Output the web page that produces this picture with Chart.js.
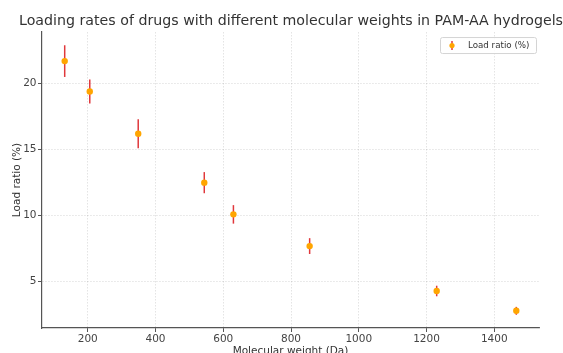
<!DOCTYPE html>
<html><head><meta charset="utf-8">
<script src="https://cdn.jsdelivr.net/npm/chart.js@4"></script>
<style>html,body{margin:0;padding:0;overflow:hidden;background:#fff}canvas{display:block}</style>
</head><body>
<canvas id="c" width="563" height="368"></canvas>
<script>
const molecularWeights = [132, 206, 349, 544, 630, 855, 1230, 1465];
const loadRatios = [21.7, 19.4, 16.2, 12.5, 10.1, 7.7, 4.3, 2.8];
const loadErrors = [1.2, 0.9, 1.1, 0.8, 0.7, 0.6, 0.4, 0.3];
const xTicks = [200, 400, 600, 800, 1000, 1200, 1400];
const yTicks = [5, 10, 15, 20];
const seriesLabel = 'Load ratio (%)';
const titleText = 'Loading rates of drugs with different molecular weights in PAM-AA hydrogels';
const xTitle = 'Molecular weight (Da)';
const yTitle = 'Load ratio (%)';

const FONT = "'DejaVu Sans', sans-serif";
const ERR_COLOR = '#e0383c';
const PT_COLOR = '#ffa500';
const TEXT = '#333';

const errorBars = {
  id: 'errorBars',
  beforeDatasetsDraw(chart) {
    const {ctx, scales: {x, y}} = chart;
    ctx.save();
    ctx.strokeStyle = ERR_COLOR;
    ctx.lineWidth = 1.5;
    molecularWeights.forEach((mw, i) => {
      const px = x.getPixelForValue(mw);
      ctx.beginPath();
      ctx.moveTo(px, y.getPixelForValue(loadRatios[i] - loadErrors[i]));
      ctx.lineTo(px, y.getPixelForValue(loadRatios[i] + loadErrors[i]));
      ctx.stroke();
    });
    ctx.restore();
  }
};

const boxLegend = {
  id: 'boxLegend',
  afterDraw(chart) {
    const {ctx, chartArea} = chart;
    const w = 96, h = 16;
    const bx = chartArea.right - 3 - w, by = chartArea.top + 5;
    ctx.save();
    ctx.fillStyle = 'rgba(255,255,255,0.85)';
    ctx.strokeStyle = '#d4d4d4';
    ctx.lineWidth = 1;
    ctx.beginPath();
    if (ctx.roundRect) ctx.roundRect(bx + 0.5, by + 0.5, w, h, 2); else ctx.rect(bx + 0.5, by + 0.5, w, h);
    ctx.fill();
    ctx.stroke();
    const mx = bx + 12, my = by + 8.5;
    ctx.strokeStyle = ERR_COLOR;
    ctx.lineWidth = 1.5;
    ctx.beginPath(); ctx.moveTo(mx, my - 4.5); ctx.lineTo(mx, my + 4.5); ctx.stroke();
    ctx.fillStyle = PT_COLOR;
    ctx.beginPath(); ctx.arc(mx, my, 2.6, 0, Math.PI * 2); ctx.fill();
    ctx.fillStyle = TEXT;
    ctx.font = "8.7px " + FONT;
    ctx.textBaseline = 'middle';
    ctx.textAlign = 'left';
    ctx.fillText(chart.data.datasets[0].label, bx + 28, my);
    ctx.restore();
  }
};

new Chart(document.getElementById('c'), {
  type: 'scatter',
  data: {
    datasets: [{
      label: seriesLabel,
      data: molecularWeights.map((x, i) => ({x, y: loadRatios[i]})),
      backgroundColor: PT_COLOR,
      borderColor: PT_COLOR,
      pointRadius: 3.2,
      pointBorderWidth: 0,
      pointHoverRadius: 3.2
    }]
  },
  options: {
    responsive: false,
    animation: false,
    events: [],
    layout: {padding: 0},
    plugins: {
      legend: {display: false},
      tooltip: {enabled: false},
      title: {
        display: true, text: titleText, align: 'end', color: TEXT,
        font: {family: FONT, size: 14.2, weight: 'normal'},
        padding: {top: 12.5, bottom: 2.5}
      }
    },
    scales: {
      x: {
        type: 'linear', min: 65, max: 1532,
        afterBuildTicks: s => { s.ticks = xTicks.map(v => ({value: v})); },
        afterFit: s => { s.height = 40; s.paddingRight = 24; },
        ticks: {color: '#444', font: {family: FONT, size: 10.5}, padding: 1, maxRotation: 0, autoSkip: false, callback: v => String(v)},
        grid: {color: 'rgba(0,0,0,0.14)', lineWidth: 0.8, tickColor: '#555', tickLength: 4, tickWidth: 1, tickBorderDash: []},
        border: {color: '#555', width: 1.2, dash: [1.5, 1.5]},
        title: {display: true, text: xTitle, color: TEXT, font: {family: FONT, size: 10.5}, padding: {top: 0, bottom: 10.5}}
      },
      y: {
        type: 'linear', min: 1.5, max: 23.9,
        afterBuildTicks: s => { s.ticks = yTicks.map(v => ({value: v})); },
        afterFit: s => { s.width = 42; },
        ticks: {color: '#444', font: {family: FONT, size: 10.5}, padding: 1.5, callback: v => String(v)},
        grid: {color: 'rgba(0,0,0,0.14)', lineWidth: 0.8, tickColor: '#555', tickLength: 4, tickWidth: 1, tickBorderDash: []},
        border: {color: '#555', width: 1.2, dash: [1.5, 1.5]},
        title: {display: true, text: yTitle, color: TEXT, font: {family: FONT, size: 10.5}, padding: {top: 10.5, bottom: 0}}
      }
    }
  },
  plugins: [errorBars, boxLegend]
});
</script>
</body></html>
